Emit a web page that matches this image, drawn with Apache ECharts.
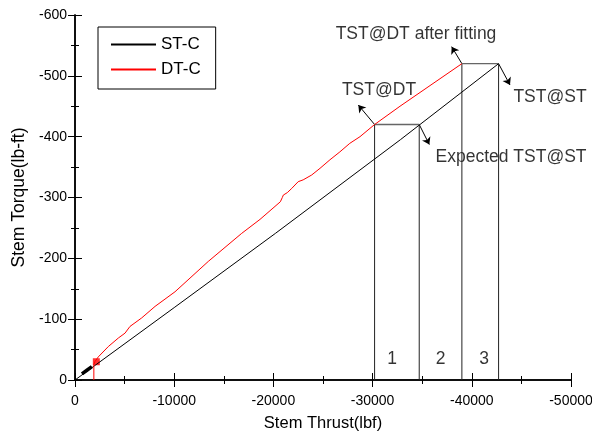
<!DOCTYPE html>
<html>
<head>
<meta charset="utf-8">
<script src="https://cdn.jsdelivr.net/npm/echarts@6/dist/echarts.min.js"></script>
<style>
  html, body { margin: 0; padding: 0; background: #fff; }
  #chart { width: 592px; height: 434px; }
</style>
</head>
<body>
<div id="chart"></div>
<script>
// ST-C: static test curve (thrust lbf, torque lb-ft)
const stThrust = [0, -10000, -20200, -32800, -34700, -42700]
const stTorque = [0, -119, -241, -395, -419, -520]
// dense start of ST-C near origin
const stStartThrust = [-700, -1200, -1700]
const stStartTorque = [-10, -16, -22]

// DT-C: dynamic test curve
const dtThrust = [-1900, -1900, -2000, -2350, -3360, -4370, -5040, -5540, -6720, -8070, -10080, -13440, -16800, -18650,
  -20700, -20900, -21000, -21400, -21850, -22500, -23000, -23860, -24700, -25700, -26700, -27700, -28730, -30200,
  -32760, -39000]
const dtTorque = [0, -25, -30, -38, -55, -69, -77, -88, -102, -121, -145, -195, -241, -264,
  -293, -300, -304, -308, -315, -326, -329, -337, -348, -362, -375, -389, -400, -420,
  -450, -520]

// TST points: [thrust, torque]
const tstDT = [-30200, -420]
const tstExpected = [-34700, -420]
const tstDTFit = [-39000, -520]
const tstST = [-42700, -520]

// annotation labels
const noteTexts = ['TST@DT after fitting', 'TST@DT', 'TST@ST', 'Expected TST@ST', '1', '2', '3']
const notePos = [[-34375, -569], [-30645, -477], [-47883, -465], [-43952, -367], [-31956, -35], [-36865, -35], [-41230, -35]]
// arrow tips: [from, to]
const arrows = [
  [tstDT, [-28560, -452]],
  [tstDTFit, [-37970, -548]],
  [tstST, [-43850, -485]],
  [tstExpected, [-35720, -387]]
]

const zip = (xs, ys) => xs.map((x, i) => [x, ys[i]])
const FONT = '"Liberation Sans", Arial, sans-serif'

const chart = echarts.init(document.getElementById('chart'))

const baseX = {
  type: 'value',
  min: -50000,
  max: 0,
  interval: 10000,
  inverse: true,
  splitLine: { show: false },
  axisLine: { lineStyle: { color: '#000', width: 1.5 } },
  axisTick: { inside: true, length: 7, lineStyle: { color: '#000' } },
  minorTick: { show: true, splitNumber: 2, length: 4, lineStyle: { color: '#000' } }
}
const baseY = {
  type: 'value',
  min: -600,
  max: 0,
  interval: 100,
  inverse: true,
  splitLine: { show: false },
  axisLine: { lineStyle: { color: '#000', width: 1.5 } },
  axisTick: { inside: true, length: 7, lineStyle: { color: '#000' } },
  minorTick: { show: true, splitNumber: 2, length: 4, lineStyle: { color: '#000' } }
}

const vLines = [tstDT, tstExpected, tstDTFit, tstST].map(p => ({
  type: 'line', symbol: 'none', silent: true,
  data: [[p[0], 0], p],
  lineStyle: { color: '#222', width: 1 }
}))
const hLines = [[tstDT, tstExpected], [tstDTFit, tstST]].map(pair => ({
  type: 'line', symbol: 'none', silent: true,
  data: pair,
  lineStyle: { color: '#666', width: 1.3 }
}))

chart.setOption({
  animation: false,
  backgroundColor: '#fff',
  grid: { left: 75, right: 21, top: 15, bottom: 54, outerBoundsMode: 'none' },
  legend: {
    data: ['ST-C', 'DT-C'],
    orient: 'vertical',
    left: 98,
    top: 27,
    itemWidth: 45,
    itemHeight: 14,
    itemGap: 8,
    padding: [9, 15, 11, 12],
    borderColor: '#000',
    borderWidth: 1,
    itemStyle: { opacity: 0, borderWidth: 0 },
    textStyle: { fontFamily: FONT, fontSize: 17, color: '#000' }
  },
  xAxis: [
    Object.assign({}, baseX, {
      position: 'bottom',
      name: 'Stem Thrust(lbf)',
      nameLocation: 'middle',
      nameGap: 35,
      nameTextStyle: { fontFamily: FONT, fontSize: 16.5, color: '#000' },
      axisLabel: { margin: 14, fontFamily: FONT, fontSize: 14, color: '#000', formatter: v => String(v) }
    }),
    Object.assign({}, baseX, { position: 'top', axisLabel: { show: false } })
  ],
  yAxis: [
    Object.assign({}, baseY, {
      position: 'left',
      name: 'Stem Torque(lb-ft)',
      nameLocation: 'middle',
      nameGap: 46,
      nameTextStyle: { fontFamily: FONT, fontSize: 17.5, color: '#000' },
      axisLabel: { margin: 8, fontFamily: FONT, fontSize: 14, color: '#000', formatter: v => String(v) }
    }),
    Object.assign({}, baseY, { position: 'right', axisLabel: { show: false } })
  ],
  series: [
    ...vLines,
    ...hLines,
    {
      name: 'ST-C',
      type: 'line',
      symbol: 'none',
      data: zip(stThrust, stTorque),
      lineStyle: { color: '#000', width: 1 },
      itemStyle: { color: '#000' }
    },
    {
      name: 'ST-C start',
      type: 'line',
      symbol: 'none',
      data: zip(stStartThrust, stStartTorque),
      lineStyle: { color: '#000', width: 3.5 }
    },
    {
      name: 'DT-C',
      type: 'line',
      symbol: 'none',
      data: zip(dtThrust, dtTorque),
      lineStyle: { color: '#ff0000', width: 1 },
      itemStyle: { color: '#ff0000' }
    },
    {
      name: 'DT-C start',
      type: 'scatter',
      symbol: 'rect',
      symbolSize: 7,
      data: [[dtThrust[2] - 150, dtTorque[2]]],
      itemStyle: { color: '#ff0000' }
    },
    {
      name: 'arrows',
      type: 'lines',
      coordinateSystem: 'cartesian2d',
      symbol: ['none', 'arrow'],
      symbolSize: 7,
      silent: true,
      lineStyle: { color: '#000', width: 1, opacity: 1 },
      data: arrows.map(a => ({ coords: a }))
    },
    {
      name: 'notes',
      type: 'scatter',
      symbolSize: 0,
      silent: true,
      data: noteTexts.map((t, i) => ({ name: t, value: notePos[i] })),
      label: {
        show: true,
        position: 'inside',
        formatter: '{b}',
        fontFamily: FONT,
        fontSize: 17.5,
        color: '#000'
      }
    }
  ]
})
</script>
</body>
</html>
